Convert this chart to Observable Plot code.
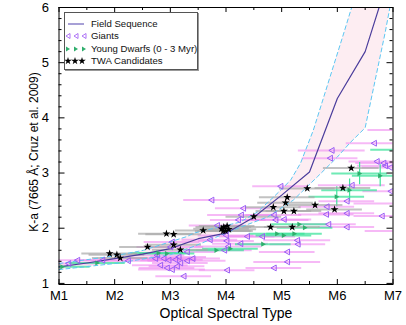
<!DOCTYPE html>
<html><head><meta charset="utf-8">
<script src="https://cdn.jsdelivr.net/npm/d3@7"></script>
<script src="https://cdn.jsdelivr.net/npm/@observablehq/plot@0.6"></script>
<style>
body{margin:0;background:#fff;font-family:"Liberation Sans",Arial,sans-serif;}
#wrap{position:relative;width:406px;height:325px;}
#legend{position:absolute;left:64px;top:12px;width:132px;height:56px;border:1px solid #555;background:#fff;box-shadow:1px 1px 0 #999;font-size:9.6px;color:#111;}
.row{position:absolute;left:0;height:12px;width:132px;}
.row svg{position:absolute;left:0;top:0;}
.row span{position:absolute;left:26px;top:0;line-height:12px;white-space:nowrap;}
</style></head><body>
<div id="wrap"><div id="chart"></div><div id="legend"></div></div>
<script>
// Field sequence (median K-a per spectral type) and its band
const fieldType = [1, 1.5, 2, 2.5, 3, 3.5, 4, 4.5, 5, 5.5, 6, 6.5, 7];
const fieldKa   = [1.30, 1.37, 1.45, 1.53, 1.63, 1.81, 1.91, 2.20, 2.60, 3.02, 4.35, 5.20, 6.80];
const upperType = [1, 2, 2.52, 3.3, 3.42, 4.25, 4.56, 4.85, 5.16, 5.34, 5.57, 6.12, 6.5];
const upperKa   = [1.36, 1.50, 1.60, 1.85, 1.91, 2.11, 2.29, 2.56, 2.87, 3.18, 3.78, 5.55, 6.80];
const lowerType = [1, 2, 3, 3.42, 4.26, 4.74, 5.21, 5.64, 6.0, 6.23, 6.5, 6.86, 7.0];
const lowerKa   = [1.25, 1.36, 1.52, 1.67, 2.02, 2.20, 2.51, 2.93, 3.29, 3.55, 3.82, 5.55, 6.30];

// Giants
const giantType = [1.17,1.33,1.78,2.24,2.73,2.76,2.88,2.97,3.09,3.18,3.30,2.82,2.94,3.03,3.12,3.24,3.30,3.03,3.00,3.15,3.40,
  3.74,4.31,4.27,4.22,3.84,3.71,4.01,4.04,3.97,4.26,4.38,4.02,4.00,4.65,4.89,5.04,4.86,4.98,5.10,5.28,5.29,4.86,5.10,
  5.90,5.87,6.66,6.71,6.83,6.86,6.95,6.96,6.26,6.17,6.17,6.17,6.80,5.80,5.81,5.84,7.40,7.50,7.50];
const giantKa   = [1.36,1.42,1.42,1.41,1.45,1.51,1.45,1.42,1.43,1.37,1.41,1.33,1.28,1.25,1.31,1.13,1.57,1.75,1.66,1.48,1.45,
  2.51,2.36,2.24,2.15,2.05,1.79,1.77,1.67,1.60,1.72,1.85,1.24,1.87,1.85,2.15,2.16,2.24,2.76,1.57,1.78,1.71,1.28,1.39,
  3.41,3.27,3.54,3.21,3.18,3.13,3.10,2.67,2.78,2.49,2.27,2.02,2.22,2.25,2.39,2.07,3.78,2.45,1.95];
const giantErr  = [0.5,0.5,0.5,0.5,0.5,0.5,0.6,0.5,0.5,0.5,0.7,0.5,0.5,0.6,0.5,0.5,0.5,0.5,0.6,0.5,0.5,
  0.5,0.5,0.6,0.5,0.5,0.5,0.5,0.6,0.5,0.5,0.5,0.5,0.5,0.6,0.6,0.5,0.5,0.5,0.5,0.6,0.5,0.5,0.6,
  0.6,0.5,0.5,0.5,0.5,0.5,0.5,0.5,0.6,0.5,0.5,0.5,0.5,0.5,0.5,0.5,0.85,1.2,1.0];

// Young dwarfs (0 - 3 Myr)
const ydType  = [1.06,1.69,2.79,2.94,3.83,4.08,4.67,4.92,5.04,5.23,5.32,5.42,5.99,6.22,6.40,6.77,7.20];
const ydKa    = [1.30,1.37,1.55,1.54,1.60,1.63,1.71,1.90,1.87,1.90,2.07,2.01,2.57,2.69,2.99,2.95,3.42];
const ydErr   = [0.5,0.5,0.5,0.5,0.5,0.5,0.5,0.5,0.5,0.5,0.5,0.5,0.5,0.5,0.5,0.5,0.6];
const ydKaErr = [0,0,0,0,0,0,0,0,0,0,0,0,0.18,0.2,0.2,0.2,0];

// TWA candidates
const twaType = [1.91,2.04,2.10,2.59,2.93,3.06,3.06,3.18,3.59,3.92,3.96,4.02,3.99,4.05,3.95,4.50,4.80,4.85,5.04,5.07,5.10,5.19,5.22,5.46,5.60,5.95,6.10,6.25];
const twaKa   = [1.54,1.52,1.46,1.66,1.90,1.89,1.70,1.61,1.96,1.99,2.02,2.04,1.95,1.98,1.95,2.21,2.02,2.38,2.31,2.46,2.56,2.02,2.31,2.72,2.42,2.34,2.73,3.09];
const twaErr  = [0.5,0.5,0.5,0.5,0.5,0.5,0.5,0.5,0.5,0.5,0.5,0.5,0.5,0.5,0.5,0.5,0.5,0.5,0.5,0.5,0.5,0.5,0.5,0.5,0.5,0.5,0.5,0.5];

// Axes
const xTicks = [1,2,3,4,5,6,7];
const xTickLabels = ["M1","M2","M3","M4","M5","M6","M7"];
const xMinor = [1.5,2.5,3.5,4.5,5.5,6.5];
const yTicks = [1,2,3,4,5,6];
const yTickLabels = ["1","2","3","4","5","6"];
const yMinor = d3.range(1.2, 6, 0.2).filter(v => Math.abs(v - Math.round(v)) > 0.05);
const xLabel = "Optical Spectral Type";
const yLabel = "K-a (7665 Å; Cruz et al. 2009)";
const legendItems = ["Field Sequence","Giants","Young Dwarfs (0 - 3 Myr)","TWA Candidates"];

const giants = giantType.map((x,i)=>({x, y: giantKa[i], e: giantErr[i]}));
const yds = ydType.map((x,i)=>({x, y: ydKa[i], e: ydErr[i], ey: ydKaErr[i]}));
const twa = twaType.map((x,i)=>({x, y: twaKa[i], e: twaErr[i]}));
const field = fieldType.map((x,i)=>({x, y: fieldKa[i]}));
const upper = upperType.map((x,i)=>({x, y: upperKa[i]}));
const lower = lowerType.map((x,i)=>({x, y: lowerKa[i]}));
const band = upper.concat(lower.slice().reverse());

const triLeft = {draw(ctx, size){const r=Math.sqrt(size/Math.PI); ctx.moveTo(-r,0); ctx.lineTo(r*0.8,-r); ctx.lineTo(r*0.8,r); ctx.closePath();}};
const triRight = {draw(ctx, size){const r=Math.sqrt(size/Math.PI); ctx.moveTo(r,0); ctx.lineTo(-r*0.8,-r); ctx.lineTo(-r*0.8,r); ctx.closePath();}};

const X0=1, X1=7, Y0=0.98, Y1=6;
const W=406, H=325, ML=58.5, MR=13.5, MT=7, MB=41;
const kx = (W-ML-MR)/(X1-X0), ky = (H-MT-MB)/(Y1-Y0);
const tk = (px)=>px/ky, tkx=(px)=>px/kx;

const chart = Plot.plot({
  width: W, height: H, marginLeft: ML, marginRight: MR, marginTop: MT, marginBottom: MB,
  x: {domain: [X0, X1]},
  y: {domain: [Y0, Y1]},
  style: {fontFamily: '"Liberation Sans", Arial, sans-serif', fontSize: "13px", color: "#000", background: "white", overflow: "visible"},
  marks: [
    Plot.line(band, {x: "x", y: "y", fill: "#fdedf2", stroke: null, curve: "linear-closed", clip: true}),
    Plot.ruleY(giants, {y: "y", x1: d=>d.x-d.e, x2: d=>d.x+d.e, stroke: "#f08af0", strokeWidth: 2, strokeOpacity: 0.6, clip: true}),
    Plot.ruleY(yds, {y: "y", x1: d=>d.x-d.e, x2: d=>d.x+d.e, stroke: "#3fe39c", strokeWidth: 2, strokeOpacity: 0.75, clip: true}),
    Plot.ruleX(yds.filter(d=>d.ey>0), {x: "x", y1: d=>d.y-d.ey, y2: d=>d.y+d.ey, stroke: "#3fe39c", strokeWidth: 1.2, clip: true}),
    Plot.ruleY(twa, {y: "y", x1: d=>d.x-d.e, x2: d=>d.x+d.e, stroke: "#a8a8a8", strokeWidth: 2, strokeOpacity: 0.7, clip: true}),
    Plot.line(upper, {x: "x", y: "y", stroke: "#5cc6f2", strokeWidth: 1, strokeDasharray: "4,3", clip: true}),
    Plot.line(lower, {x: "x", y: "y", stroke: "#5cc6f2", strokeWidth: 1, strokeDasharray: "4,3", clip: true}),
    Plot.line(field, {x: "x", y: "y", stroke: "#4b3d9c", strokeWidth: 1.2, clip: true}),
    Plot.dot(giants, {x: "x", y: "y", symbol: triLeft, r: 2.9, stroke: "#9a5cf5", strokeWidth: 1, fill: "none", clip: true}),
    Plot.dot(yds, {x: "x", y: "y", symbol: triRight, r: 2.6, fill: "#2fae6c", stroke: null, clip: true}),
    Plot.dot(twa, {x: "x", y: "y", symbol: d3.symbolStar, r: 2.5, fill: "#000", stroke: null, clip: true}),
    // inward ticks on all four sides
    Plot.ruleX(xTicks, {x: d=>d, y1: Y0, y2: Y0+tk(5), stroke: "#000"}),
    Plot.ruleX(xTicks, {x: d=>d, y1: Y1-tk(5), y2: Y1, stroke: "#000"}),
    Plot.ruleX(xMinor, {x: d=>d, y1: Y0, y2: Y0+tk(3), stroke: "#000"}),
    Plot.ruleX(xMinor, {x: d=>d, y1: Y1-tk(3), y2: Y1, stroke: "#000"}),
    Plot.ruleY(yTicks, {y: d=>d, x1: X0, x2: X0+tkx(6), stroke: "#000"}),
    Plot.ruleY(yTicks, {y: d=>d, x1: X1-tkx(6), x2: X1, stroke: "#000"}),
    Plot.ruleY(yMinor, {y: d=>d, x1: X0, x2: X0+tkx(3), stroke: "#000"}),
    Plot.ruleY(yMinor, {y: d=>d, x1: X1-tkx(3), x2: X1, stroke: "#000"}),
    Plot.frame({stroke: "#000", strokeWidth: 1}),
    Plot.axisX({ticks: xTicks, tickFormat: d=>xTickLabels[xTicks.indexOf(d)], tickSize: 0, tickPadding: 6, label: null}),
    Plot.axisY({ticks: yTicks, tickFormat: d=>yTickLabels[yTicks.indexOf(d)], tickSize: 0, tickPadding: 10, label: null}),
    Plot.text([xLabel], {frameAnchor: "bottom", dy: 33, lineAnchor: "bottom", textAnchor: "middle", fontSize: 14, text: d=>d}),
    Plot.text([yLabel], {frameAnchor: "left", dx: -25, dy: 6, rotate: -90, textAnchor: "middle", lineAnchor: "middle", fontSize: 12, text: d=>d})
  ]
});
document.getElementById("chart").appendChild(chart);

// Legend (inside the plot, top-left)
const legend = document.getElementById("legend");
const rowsTop = [5, 17, 30, 42];
const sym = [
  `<svg width="26" height="12"><line x1="3" y1="6" x2="19" y2="6" stroke="#8a80c8" stroke-width="1.5"/></svg>`,
  `<svg width="26" height="12">${[3,11,19].map(x=>`<path d="M${x-2},6 L${x+2},3.5 L${x+2},8.5 Z" fill="none" stroke="#a565f5" stroke-width="0.9"/>`).join("")}</svg>`,
  `<svg width="26" height="12">${[3,11,19].map(x=>`<path d="M${x+2},6 L${x-2},3.5 L${x-2},8.5 Z" fill="#2fae6c"/>`).join("")}</svg>`,
  `<svg width="26" height="12">${[3,10,17].map(x=>`<path transform="translate(${x},6)" d="${d3.symbol(d3.symbolStar, 18)()}" fill="#000"/>`).join("")}</svg>`
];
legendItems.forEach((t,i)=>{
  const r = document.createElement("div");
  r.className = "row"; r.style.top = rowsTop[i] + "px";
  r.innerHTML = sym[i] + `<span>${t}</span>`;
  legend.appendChild(r);
});
</script>
</body></html>
